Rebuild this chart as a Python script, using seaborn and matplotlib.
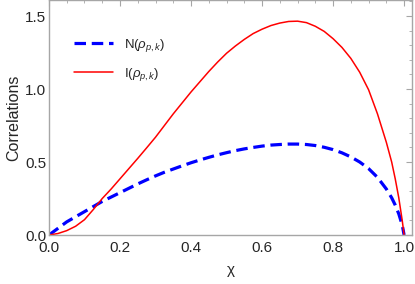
import numpy as np
import pandas as pd
import matplotlib
matplotlib.use("Agg")
import matplotlib.pyplot as plt
import seaborn as sns
from matplotlib.ticker import MultipleLocator

# valores
chi = [0.0, 0.025, 0.05, 0.075, 0.1, 0.125, 0.15, 0.175, 0.2, 0.225, 0.25, 0.275,
       0.3, 0.325, 0.35, 0.375, 0.4, 0.425, 0.45, 0.475, 0.5, 0.525, 0.55, 0.575,
       0.6, 0.625, 0.65, 0.675, 0.7, 0.725, 0.75, 0.775, 0.8, 0.825, 0.85, 0.875,
       0.9, 0.925, 0.95, 0.965, 0.975, 0.985, 0.995, 1.0]
neg_n = [0.0, 0.045, 0.09, 0.125, 0.16, 0.195, 0.23, 0.26, 0.29, 0.32, 0.35, 0.378,
         0.405, 0.43, 0.452, 0.474, 0.495, 0.514, 0.532, 0.549, 0.564, 0.578, 0.59, 0.6,
         0.609, 0.616, 0.62, 0.623, 0.623, 0.62, 0.613, 0.601, 0.585, 0.563, 0.535, 0.5,
         0.455, 0.395, 0.315, 0.255, 0.205, 0.145, 0.065, 0.0]
info_i = [0.0, 0.01, 0.03, 0.06, 0.105, 0.175, 0.25, 0.315, 0.385, 0.455, 0.525, 0.597,
          0.67, 0.75, 0.83, 0.905, 0.98, 1.05, 1.12, 1.185, 1.245, 1.295, 1.34, 1.38,
          1.41, 1.435, 1.452, 1.463, 1.465, 1.455, 1.43, 1.395, 1.345, 1.285, 1.21, 1.115,
          0.995, 0.83, 0.635, 0.5, 0.385, 0.255, 0.095, 0.0]
labels = [r"N($\rho_{p,k}$)", r"I($\rho_{p,k}$)"]

sns.set_style("white")
plt.rcParams["font.family"] = ["Liberation Sans", "DejaVu Sans"]
plt.rcParams["mathtext.fontset"] = "custom"
plt.rcParams["mathtext.rm"] = "Liberation Sans"
plt.rcParams["mathtext.it"] = "Liberation Sans:italic"

datos = pd.DataFrame({"chi": chi, "N": neg_n, "I": info_i})

fig = plt.figure(figsize=(4.15, 2.84), dpi=100)
ax = fig.add_axes([0.118, 0.1725, 0.875, 0.8275])

sns.lineplot(data=datos, x="chi", y="N", ax=ax, color="#0000ff", lw=2.3,
             label=labels[0])
ax.lines[-1].set_dashes((3.6, 1.8))
sns.lineplot(data=datos, x="chi", y="I", ax=ax, color="#ff0000", lw=1.1,
             label=labels[1])

ax.set_xlim(0, 1.0225)
ax.set_ylim(0, 1.61)
ax.xaxis.set_major_locator(MultipleLocator(0.2))
ax.xaxis.set_minor_locator(MultipleLocator(0.05))
ax.yaxis.set_major_locator(MultipleLocator(0.5))
ax.yaxis.set_minor_locator(MultipleLocator(0.1))

gris = "#a6a6a6"
for s in ax.spines.values():
    s.set_color(gris)
    s.set_linewidth(1.0)
ax.tick_params(which="both", direction="in", top=True, right=True, color=gris,
               labelsize=11, pad=2)
ax.tick_params(axis="x", pad=4)
ax.tick_params(which="major", length=4, width=0.8)
ax.tick_params(which="minor", length=2.5, width=0.6)

ax.set_xlabel("χ", fontsize=11, labelpad=6)
ax.set_ylabel("Correlations", fontsize=11.5, labelpad=3)

leg = ax.legend(loc="upper left", bbox_to_anchor=(0.035, 0.895), frameon=False,
                fontsize=9.5, handlelength=3.0, labelspacing=0.95, handletextpad=0.8)

plt.savefig("out.png", dpi=100)
plt.close()
